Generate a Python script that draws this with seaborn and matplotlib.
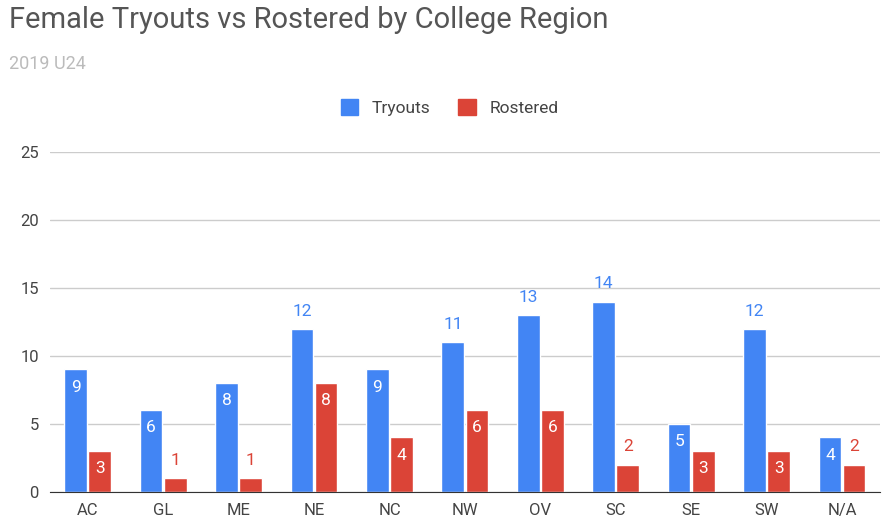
import matplotlib
matplotlib.use("Agg")
import matplotlib.pyplot as plt
import seaborn as sns
import pandas as pd

regions = ["AC", "GL", "ME", "NE", "NC", "NW", "OV", "SC", "SE", "SW", "N/A"]
tryouts = [9, 6, 8, 12, 9, 11, 13, 14, 5, 12, 4]
rostered = [3, 1, 1, 8, 4, 6, 6, 2, 3, 3, 2]
tryouts_inside = [True, True, True, False, True, False, False, False, True, False, True]
rostered_inside = [True, False, False, True, True, True, True, False, True, True, False]

BLUE, RED = "#4285F4", "#DB4437"
df = pd.DataFrame({
    "Region": regions * 2,
    "Count": tryouts + rostered,
    "Series": ["Tryouts"] * len(regions) + ["Rostered"] * len(regions),
})

sns.set_style("white")
plt.rcParams["font.family"] = ["Roboto", "DejaVu Sans"]
fig = plt.figure(figsize=(8.94, 5.26), dpi=100)
ax = fig.add_axes([0.056, 0.065, 0.928, 0.646])
sns.barplot(data=df, x="Region", y="Count", hue="Series", palette=[BLUE, RED],
            width=0.64, gap=0.06, ax=ax, legend=False, saturation=1)

ax.set_ylim(0, 25)
ax.set_yticks([0, 5, 10, 15, 20, 25])
ax.yaxis.grid(True, color="#cccccc", lw=1)
ax.set_axisbelow(True)
for s in ["top", "right", "left"]:
    ax.spines[s].set_visible(False)
ax.spines["bottom"].set_color("#333333")
ax.set_xlabel("")
ax.set_ylabel("")
ax.tick_params(axis="both", length=0, labelsize=12, labelcolor="#444444", pad=8)
ax.set_xlim(-0.5, len(regions) - 0.5)

patches = ax.patches
for series_vals, inside, color, offset in [(tryouts, tryouts_inside, BLUE, 0), (rostered, rostered_inside, RED, len(regions))]:
    for i, v in enumerate(series_vals):
        p = patches[offset + i]
        x = p.get_x() + p.get_width() / 2
        if inside[i]:
            ax.text(x, v - 1.3, str(v), ha="center", va="center", color="white", fontsize=12.5)
        else:
            ax.text(x, v + 1.3, str(v), ha="center", va="center", color=color, fontsize=12.5)

fig.text(0.01, 0.962, "Female Tryouts vs Rostered by College Region", fontsize=21, color="#555555", va="center")
fig.text(0.01, 0.878, "2019 U24", fontsize=13, color="#bbbbbb", va="center")
from matplotlib.patches import Patch
fig.legend(handles=[Patch(color=BLUE, label="Tryouts"), Patch(color=RED, label="Rostered")],
           loc="center", bbox_to_anchor=(0.503, 0.795), ncol=2, frameon=False, fontsize=12.5,
           handlelength=1.0, handleheight=1.0, columnspacing=1.6, labelcolor="#444444")
fig.savefig("out.png", dpi=100)
